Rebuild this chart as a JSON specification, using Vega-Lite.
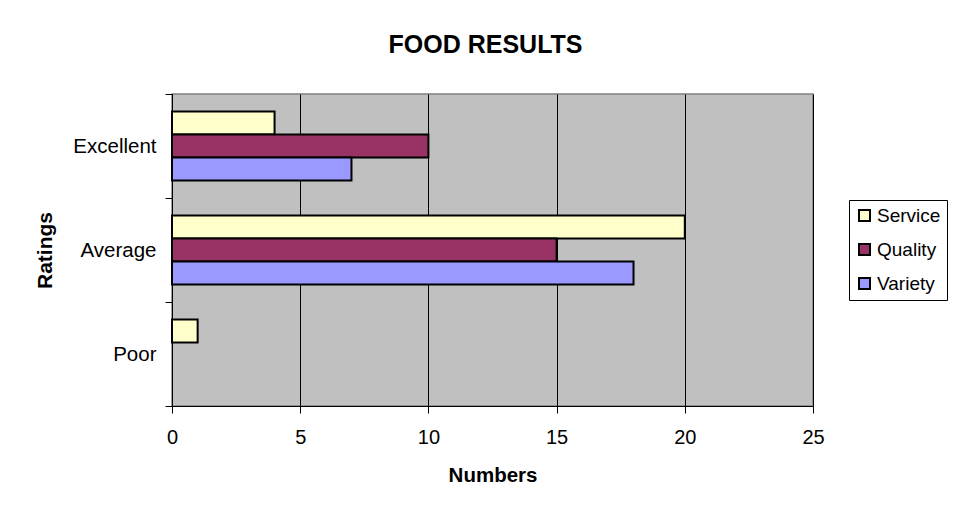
{
  "$schema": "https://vega.github.io/schema/vega-lite/v6.json",
  "width": 641,
  "height": 312,
  "autosize": {"type": "none"},
  "padding": {"left": 172, "top": 94, "right": 152, "bottom": 111},
  "background": "white",
  "title": {
    "text": "FOOD RESULTS",
    "font": "Liberation Sans",
    "fontSize": 25,
    "fontWeight": "bold",
    "color": "black",
    "anchor": "middle",
    "dx": -7,
    "offset": 26
  },
  "data": {
    "values": [
      {"rating": "Excellent", "series": "Service", "value": 4},
      {"rating": "Excellent", "series": "Quality", "value": 10},
      {"rating": "Excellent", "series": "Variety", "value": 7},
      {"rating": "Average", "series": "Service", "value": 20},
      {"rating": "Average", "series": "Quality", "value": 15},
      {"rating": "Average", "series": "Variety", "value": 18},
      {"rating": "Poor", "series": "Service", "value": 1}
    ]
  },
  "mark": {"type": "bar", "stroke": "black", "strokeWidth": 2, "cornerRadius": 0},
  "encoding": {
    "y": {
      "field": "rating",
      "type": "nominal",
      "sort": ["Excellent", "Average", "Poor"],
      "scale": {"paddingInner": 0, "paddingOuter": 0},
      "axis": {
        "title": "Ratings",
        "titleFont": "Liberation Sans",
        "titleFontSize": 21,
        "titleFontWeight": "bold",
        "titleColor": "black",
        "titlePadding": 17,
        "labelFont": "Liberation Sans",
        "labelFontSize": 20.5,
        "labelColor": "black",
        "labelPadding": 9,
        "tickBand": "extent",
        "tickSize": 7,
        "tickColor": "black",
        "domainColor": "black",
        "domainWidth": 1,
        "grid": false
      }
    },
    "yOffset": {
      "field": "series",
      "type": "nominal",
      "sort": ["Service", "Quality", "Variety"],
      "scale": {"paddingInner": 0, "paddingOuter": 0.76}
    },
    "x": {
      "field": "value",
      "type": "quantitative",
      "scale": {"domain": [0, 25], "nice": false},
      "axis": {
        "title": "Numbers",
        "titleFont": "Liberation Sans",
        "titleFontSize": 20.5,
        "titleFontWeight": "bold",
        "titleColor": "black",
        "titlePadding": 18,
        "labelFont": "Liberation Sans",
        "labelFontSize": 20,
        "labelColor": "black",
        "labelPadding": 14,
        "labelFlush": false,
        "values": [0, 5, 10, 15, 20, 25],
        "tickSize": 7,
        "tickColor": "black",
        "domainColor": "black",
        "grid": true,
        "gridColor": "black",
        "gridOpacity": 1,
        "gridWidth": 1
      }
    },
    "color": {
      "field": "series",
      "type": "nominal",
      "sort": ["Service", "Quality", "Variety"],
      "scale": {"domain": ["Service", "Quality", "Variety"], "range": ["#FFFFCC", "#993366", "#9999FF"]},
      "legend": {
        "title": null,
        "orient": "none",
        "legendX": 677,
        "legendY": 106,
        "strokeColor": "black",
        "fillColor": "white",
        "padding": 6,
        "rowPadding": 14,
        "symbolType": "square",
        "symbolSize": 121,
        "symbolStrokeColor": "black",
        "symbolStrokeWidth": 2,
        "symbolOpacity": 1,
        "labelFont": "Liberation Sans",
        "labelFontSize": 19,
        "labelColor": "black",
        "labelOffset": 3
      }
    }
  },
  "config": {
    "view": {"fill": "#C0C0C0", "stroke": "#808080", "strokeWidth": 1.5}
  }
}
